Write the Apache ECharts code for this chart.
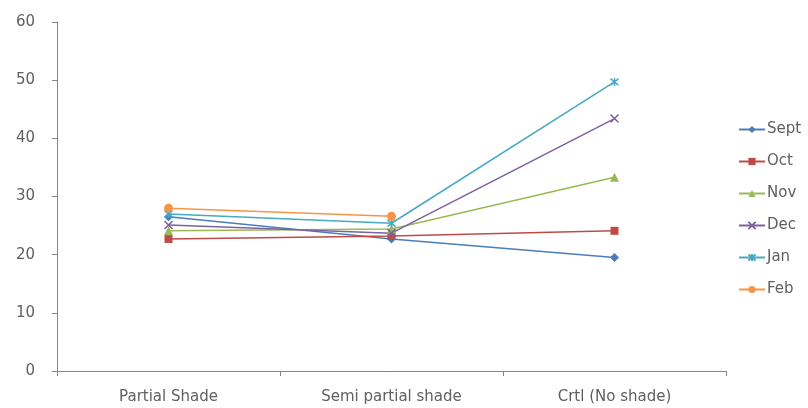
<!DOCTYPE html>
<html>
<head>
<meta charset="utf-8">
<script src="https://cdn.jsdelivr.net/npm/echarts@6/dist/echarts.min.js"></script>
<style>html,body{margin:0;padding:0;background:#fff}#chart{width:808px;height:408px}</style>
</head>
<body>
<div id="chart"></div>
<script>
// Shading treatments along the x axis
const categories = ['Partial Shade', 'Semi partial shade', 'Crtl (No shade)'];
const yTicks = [0, 10, 20, 30, 40, 50, 60];

// Monthly readings per treatment (Feb has no control reading)
const sept = [26.5, 22.7, 19.5];
const oct  = [22.7, 23.2, 24.1];
const nov  = [24.1, 24.4, 33.3];
const dec  = [25.1, 23.7, 43.4];
const jan  = [27.0, 25.4, 49.7];
const feb  = [28.0, 26.6, null];

const xPath = 'path://M0,0L10,10M10,0L0,10';
const starPath = 'path://M0,0L10,10M10,0L0,10M5,-1L5,11';

const seriesDefs = [
  { name: 'Sept', data: sept, color: '#4A7EBB', symbol: 'diamond', size: 9 },
  { name: 'Oct',  data: oct,  color: '#BE4B48', symbol: 'rect', size: 8 },
  { name: 'Nov',  data: nov,  color: '#98B954', symbol: 'triangle', size: 9 },
  { name: 'Dec',  data: dec,  color: '#7D60A0', symbol: xPath, size: 8 },
  { name: 'Jan',  data: jan,  color: '#46AAC5', symbol: starPath, size: 8 },
  { name: 'Feb',  data: feb,  color: '#F69545', symbol: 'circle', size: 9 }
];

const font = 'DejaVu Sans';
const textColor = '#606060';

const chart = echarts.init(document.getElementById('chart'));
chart.setOption({
  animation: false,
  textStyle: { fontFamily: font, color: textColor },
  grid: { left: 57, right: 82, top: 22, bottom: 37 },
  legend: {
    orient: 'vertical',
    left: 733,
    top: 117,
    itemGap: 17,
    itemWidth: 26,
    itemHeight: 9,
    textStyle: { fontFamily: font, fontSize: 15, color: textColor, padding: [0, 0, 0, -3] },
    data: seriesDefs.map(s => s.name)
  },
  xAxis: {
    type: 'category',
    data: categories,
    boundaryGap: true,
    axisLine: { lineStyle: { color: '#868686', width: 1 } },
    axisTick: { show: true, length: 5, lineStyle: { color: '#868686' } },
    axisLabel: { fontFamily: font, fontSize: 15, color: textColor, margin: 19 }
  },
  yAxis: {
    type: 'value',
    min: 0,
    max: 60,
    interval: 10,
    axisLine: { show: true, lineStyle: { color: '#868686', width: 1 } },
    axisTick: { show: true, length: 5, lineStyle: { color: '#868686' } },
    axisLabel: { fontFamily: font, fontSize: 15, color: textColor, margin: 22,
      formatter: v => yTicks.includes(v) ? String(v) : '' },
    splitLine: { show: false }
  },
  series: seriesDefs.map(s => ({
    name: s.name,
    type: 'line',
    data: s.data,
    symbol: s.symbol,
    symbolSize: s.size,
    showAllSymbol: true,
    lineStyle: { color: s.color, width: 1.5 },
    itemStyle: { color: s.color, borderColor: s.color, borderWidth: (s.symbol === xPath || s.symbol === starPath) ? 1.5 : 0 },
    emphasis: { disabled: true }
  }))
});
</script>
</body>
</html>
